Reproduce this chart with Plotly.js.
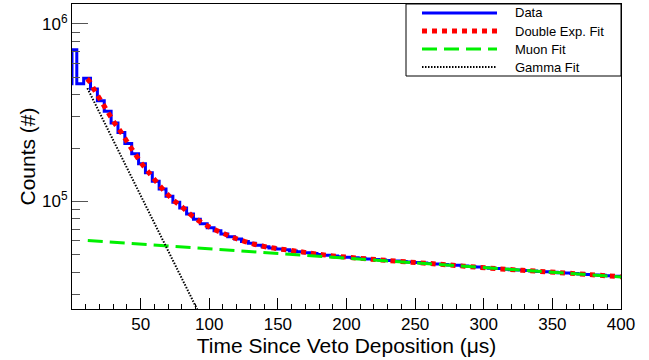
<!DOCTYPE html>
<html>
<head>
<meta charset="utf-8">
<script src="https://cdn.plot.ly/plotly-3.0.1.min.js"></script>
<style>html,body{margin:0;padding:0;background:#fff;}#chart{width:649px;height:360px;}</style>
</head>
<body>
<div id="chart"></div>
<script>
// ---- Data ----
// Histogram: level before the first bin, first (partial) bin [0,3.5], then 5 µs bins starting at 3.5 µs
const preBinLevel = 4.6e5;
const firstBinCount = 7.15e5;
const binStart = 3.5;
const binWidth = 5;
const dataCounts = [
  4.60e5, 4.95e5, 4.30e5, 3.70e5, 3.22e5, 2.77e5, 2.45e5, 2.12e5, 1.86e5, 1.63e5,
  1.45e5, 1.30e5, 1.175e5, 1.07e5, 9.9e4, 9.2e4, 8.5e4, 7.95e4, 7.5e4, 7.12e4,
  6.84e4, 6.57e4, 6.33e4, 6.14e4, 5.96e4, 5.81e4, 5.67e4, 5.56e4, 5.47e4, 5.40e4,
  5.35e4, 5.27e4, 5.21e4, 5.15e4, 5.10e4, 5.03e4, 4.98e4, 4.94e4, 4.89e4, 4.86e4,
  4.82e4, 4.79e4, 4.75e4, 4.71e4, 4.68e4, 4.65e4, 4.62e4, 4.59e4, 4.57e4, 4.53e4,
  4.51e4, 4.48e4, 4.45e4, 4.42e4, 4.39e4, 4.37e4, 4.33e4, 4.30e4, 4.28e4, 4.24e4,
  4.21e4, 4.19e4, 4.15e4, 4.13e4, 4.11e4, 4.08e4, 4.06e4, 4.04e4, 4.02e4, 4.00e4,
  3.97e4, 3.95e4, 3.93e4, 3.90e4, 3.88e4, 3.86e4, 3.84e4, 3.82e4, 3.79e4, 3.78e4
];

// Double exponential fit (read at several times)
const fitTime = [11, 12.9, 17.2, 21.9, 26.3, 31.1, 36, 40.8, 45.7, 50.6, 56.2, 61.5, 67.6, 73.7, 80.5, 87.1,
  94.4, 101.7, 109.7, 117.4, 126, 134.5, 143, 151.5, 161.2, 169.7, 186.7, 222.5, 266.5, 310.7, 354.5, 400];
const fitCounts = [4.9e5, 4.73e5, 4.13e5, 3.61e5, 3.17e5, 2.76e5, 2.44e5, 2.13e5, 1.87e5, 1.64e5, 1.45e5, 1.29e5,
  1.14e5, 1.02e5, 9.27e4, 8.35e4, 7.62e4, 7.08e4, 6.64e4, 6.27e4, 5.95e4, 5.70e4, 5.52e4, 5.40e4, 5.28e4, 5.17e4,
  4.97e4, 4.70e4, 4.44e4, 4.18e4, 3.98e4, 3.77e4];

// Muon fit (straight on log scale)
const muonTime = [11.5, 400];
const muonCounts = [6.03e4, 3.76e4];

// Gamma fit (straight on log scale, runs below the axis)
const gammaTime = [11.2, 92];
const gammaCounts = [4.35e5, 2.4e4];

// Axis ticks
const xTickVals = [50, 100, 150, 200, 250, 300, 350, 400];
const yMajorVals = [1e5, 1e6];
const yMajorText = ['10<sup>5</sup>', '10<sup>6</sup>'];
const yMinorVals = [3e4, 4e4, 5e4, 6e4, 7e4, 8e4, 9e4, 2e5, 3e5, 4e5, 5e5, 6e5, 7e5, 8e5, 9e5];

// Legend labels
const seriesNames = ['Data', 'Double Exp. Fit', 'Muon Fit', 'Gamma Fit'];

// ---- Styles ----
const FONT = 'Liberation Sans, Arial, Helvetica, sans-serif';
const seriesLines = [
  { color: '#0000ff', width: 3 },
  { color: '#ff0000', width: 5, dash: '5px,5px' },
  { color: '#00f000', width: 3, dash: '15px,7px' },
  { color: '#000000', width: 2, dash: '1.5px,1.5px' }
];

// ---- Build histogram outline (step, 'hv') ----
const histX = [-5, 0];
const histY = [preBinLevel, firstBinCount];
dataCounts.forEach((c, i) => { histX.push(binStart + binWidth * i); histY.push(c); });
histX.push(binStart + binWidth * dataCounts.length);
histY.push(dataCounts[dataCounts.length - 1]);

const traces = [
  { x: histX, y: histY, type: 'scatter', mode: 'lines', name: seriesNames[0],
    line: Object.assign({ shape: 'hv' }, seriesLines[0]) },
  { x: fitTime, y: fitCounts, type: 'scatter', mode: 'lines', name: seriesNames[1],
    line: Object.assign({ shape: 'spline' }, seriesLines[1]) },
  { x: muonTime, y: muonCounts, type: 'scatter', mode: 'lines', name: seriesNames[2],
    line: seriesLines[2] },
  { x: gammaTime, y: gammaCounts, type: 'scatter', mode: 'lines', name: seriesNames[3],
    line: seriesLines[3] },
  // invisible trace carrying the minor y-tick axis
  { x: [0], y: [1e5], yaxis: 'y2', type: 'scatter', mode: 'markers',
    marker: { opacity: 0 }, hoverinfo: 'skip' }
];

// ---- Legend box (ROOT-style), laid out in plot-area fractions ----
const M = { l: 72, r: 28, t: 4, b: 51 };
const W = 649, H = 360;
const PW = W - M.l - M.r, PH = H - M.t - M.b;
const fx = p => (p - M.l) / PW;
const fy = p => (H - M.b - p) / PH;
const LEG = { x0: 406, x1: 621, y0: 4, y1: 76, row0: 13, rowStep: 18, s0: 422, s1: 497, tx: 513 };

const shapes = [{
  type: 'rect', xref: 'paper', yref: 'paper',
  x0: fx(LEG.x0), x1: fx(LEG.x1), y0: fy(LEG.y1), y1: fy(LEG.y0),
  line: { color: '#000', width: 1 }, fillcolor: '#ffffff', layer: 'above'
}];
const annotations = [];
seriesNames.forEach((name, i) => {
  const ry = fy(LEG.row0 + LEG.rowStep * i);
  shapes.push({ type: 'line', xref: 'paper', yref: 'paper', x0: fx(LEG.s0), x1: fx(LEG.s1), y0: ry, y1: ry,
    line: seriesLines[i], layer: 'above' });
  annotations.push({ xref: 'paper', yref: 'paper', x: fx(LEG.tx), y: ry, xanchor: 'left', yanchor: 'middle',
    text: name, showarrow: false, font: { family: FONT, size: 13, color: '#000' } });
});

const layout = {
  width: W, height: H,
  margin: { l: M.l, r: M.r, t: M.t, b: M.b, pad: 0 },
  paper_bgcolor: '#ffffff', plot_bgcolor: '#ffffff',
  font: { family: FONT, color: '#000' },
  showlegend: false,
  shapes: shapes,
  annotations: annotations,
  xaxis: {
    range: [0, 400], showgrid: false, zeroline: false,
    showline: true, linecolor: '#000', linewidth: 1, mirror: true,
    ticks: 'inside', ticklen: 11, tickcolor: '#000', tickwidth: 1,
    tickvals: xTickVals, tickfont: { family: FONT, size: 17, color: '#000' },
    minor: { tick0: 0, dtick: 10, ticks: 'inside', ticklen: 5, tickcolor: '#000', tickwidth: 1, showgrid: false },
    title: { text: 'Time Since Veto Deposition (μs)', font: { family: FONT, size: 21, color: '#000' }, standoff: 3 }
  },
  yaxis: {
    type: 'log', range: [4.3945, 6.1125], showgrid: false, zeroline: false,
    showline: true, linecolor: '#000', linewidth: 1, mirror: true,
    ticks: 'inside', ticklen: 16, tickcolor: '#555', tickwidth: 1,
    tickvals: yMajorVals, ticktext: yMajorText,
    tickfont: { family: FONT, size: 17, color: '#000' },
    title: { text: 'Counts (#)', font: { family: FONT, size: 21, color: '#000' }, standoff: 0 }
  },
  yaxis2: {
    type: 'log', range: [4.3945, 6.1125], overlaying: 'y', side: 'left', anchor: 'x',
    showgrid: false, zeroline: false, showline: false,
    ticks: 'inside', ticklen: 8, tickcolor: '#555', tickwidth: 1,
    tickvals: yMinorVals, showticklabels: false
  }
};

Plotly.newPlot('chart', traces, layout, { displayModeBar: false, staticPlot: true });
</script>
</body>
</html>
